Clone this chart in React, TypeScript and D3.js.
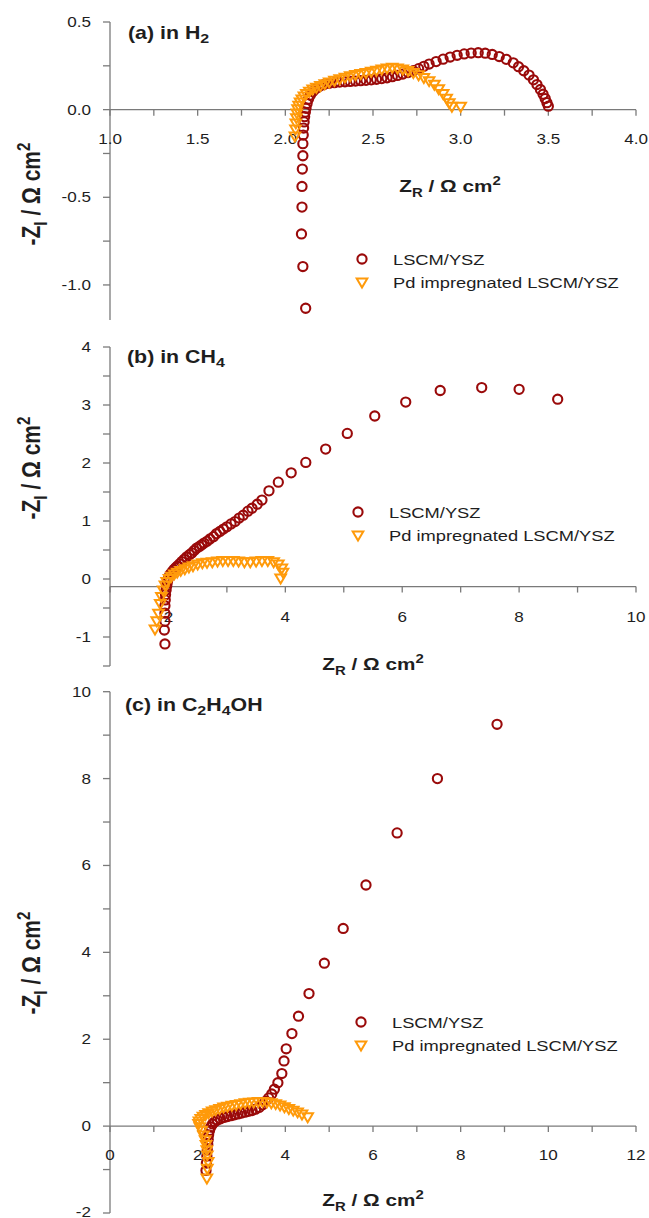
import React from "react";
import * as d3 from "d3";

type Pt = [number, number];

// ---------- DATA ----------
const h2Lscm: Pt[] = [
  [2.116, -1.133], [2.1, -0.895], [2.092, -0.709], [2.095, -0.556], [2.095, -0.438], [2.097, -0.339],
  [2.1, -0.263], [2.1, -0.194], [2.102, -0.145], [2.104, -0.105], [2.107, -0.07], [2.11, -0.04],
  [2.114, -0.015], [2.118, 0.008], [2.124, 0.035], [2.132, 0.06], [2.143, 0.083], [2.157, 0.103],
  [2.175, 0.12], [2.195, 0.133], [2.22, 0.143], [2.25, 0.15], [2.28, 0.154], [2.31, 0.157],
  [2.34, 0.159], [2.37, 0.161], [2.4, 0.163], [2.43, 0.165], [2.46, 0.167], [2.49, 0.17],
  [2.52, 0.173], [2.55, 0.177], [2.58, 0.182], [2.61, 0.188], [2.64, 0.195], [2.67, 0.203],
  [2.7, 0.212], [2.73, 0.222], [2.76, 0.234], [2.79, 0.247], [2.82, 0.26], [2.86, 0.274],
  [2.9, 0.288], [2.94, 0.3], [2.98, 0.31], [3.02, 0.318], [3.06, 0.323], [3.1, 0.325],
  [3.14, 0.322], [3.18, 0.315], [3.22, 0.303], [3.26, 0.287], [3.3, 0.267], [3.33, 0.245],
  [3.36, 0.222], [3.39, 0.197], [3.415, 0.17], [3.435, 0.143], [3.455, 0.115], [3.47, 0.088],
  [3.482, 0.063], [3.492, 0.04], [3.5, 0.02],
];
const h2Pd: Pt[] = [
  [2.055, -0.15], [2.058, -0.11], [2.06, -0.075], [2.063, -0.045], [2.066, -0.018], [2.07, 0.005],
  [2.076, 0.025], [2.084, 0.044], [2.094, 0.062], [2.106, 0.078], [2.12, 0.093], [2.137, 0.106],
  [2.156, 0.118], [2.177, 0.128], [2.2, 0.138], [2.225, 0.148], [2.25, 0.158], [2.28, 0.168],
  [2.31, 0.177], [2.34, 0.186], [2.37, 0.194], [2.4, 0.201], [2.43, 0.207], [2.46, 0.213],
  [2.49, 0.219], [2.52, 0.225], [2.55, 0.232], [2.58, 0.238], [2.61, 0.242], [2.64, 0.238],
  [2.67, 0.232], [2.7, 0.224], [2.73, 0.213], [2.76, 0.2], [2.79, 0.184], [2.82, 0.166],
  [2.85, 0.145], [2.875, 0.12], [2.9, 0.093], [2.92, 0.065], [2.935, 0.04], [2.95, 0.02], [3.0, 0.02],
];
const ch4Lscm: Pt[] = [
  [1.94, -1.12], [1.93, -0.88], [1.94, -0.73], [1.94, -0.59], [1.94, -0.46], [1.945, -0.36],
  [1.95, -0.27], [1.96, -0.19], [1.97, -0.12], [1.98, -0.06], [1.99, -0.01], [2.01, 0.04],
  [2.03, 0.08], [2.06, 0.12], [2.09, 0.16], [2.12, 0.19], [2.15, 0.22], [2.19, 0.26],
  [2.23, 0.3], [2.27, 0.34], [2.31, 0.38], [2.36, 0.42], [2.4, 0.45], [2.44, 0.49],
  [2.48, 0.53], [2.53, 0.56], [2.57, 0.59], [2.61, 0.62], [2.66, 0.65], [2.71, 0.69],
  [2.77, 0.73], [2.82, 0.78], [2.88, 0.82], [2.94, 0.86], [3.0, 0.9], [3.07, 0.95],
  [3.14, 0.99], [3.21, 1.05], [3.28, 1.1], [3.36, 1.17], [3.43, 1.22], [3.52, 1.29],
  [3.6, 1.36], [3.72, 1.52], [3.88, 1.67], [4.1, 1.83], [4.35, 2.01], [4.69, 2.24],
  [5.06, 2.51], [5.53, 2.81], [6.06, 3.05], [6.65, 3.25], [7.36, 3.3], [8.0, 3.27], [8.66, 3.1],
];
const ch4Pd: Pt[] = [
  [1.77, -0.86], [1.8, -0.72], [1.83, -0.59], [1.86, -0.42], [1.88, -0.3], [1.91, -0.19],
  [1.94, -0.1], [1.97, -0.04], [2.01, 0.01], [2.05, 0.05], [2.1, 0.09], [2.15, 0.12],
  [2.21, 0.15], [2.28, 0.18], [2.35, 0.21], [2.42, 0.23], [2.5, 0.26], [2.58, 0.28],
  [2.66, 0.29], [2.75, 0.3], [2.84, 0.31], [2.93, 0.32], [3.02, 0.32], [3.11, 0.32],
  [3.2, 0.31], [3.3, 0.3], [3.4, 0.3], [3.5, 0.31], [3.6, 0.32], [3.7, 0.32],
  [3.8, 0.3], [3.88, 0.26], [3.94, 0.19], [3.96, 0.12], [3.92, 0.02],
];
const etLscm: Pt[] = [
  [2.19, -1.02], [2.2, -0.85], [2.21, -0.69], [2.22, -0.55], [2.23, -0.42], [2.24, -0.31],
  [2.25, -0.2], [2.27, -0.1], [2.3, -0.02], [2.34, 0.05], [2.39, 0.1], [2.45, 0.14],
  [2.52, 0.17], [2.6, 0.2], [2.68, 0.22], [2.76, 0.24], [2.84, 0.26], [2.92, 0.28],
  [3.0, 0.3], [3.08, 0.32], [3.16, 0.34], [3.24, 0.36], [3.32, 0.39], [3.4, 0.43],
  [3.48, 0.49], [3.55, 0.57], [3.62, 0.65], [3.69, 0.74], [3.75, 0.85], [3.83, 1.0],
  [3.92, 1.21], [3.97, 1.5], [4.02, 1.78], [4.15, 2.13], [4.3, 2.53], [4.54, 3.05],
  [4.89, 3.75], [5.32, 4.55], [5.84, 5.55], [6.55, 6.75], [7.47, 8.0], [8.83, 9.25],
];
const etPd: Pt[] = [
  [2.21, -1.19], [2.22, -0.97], [2.24, -0.81], [2.22, -0.66], [2.21, -0.54], [2.19, -0.42],
  [2.17, -0.31], [2.13, -0.2], [2.09, -0.09], [2.05, -0.01], [2.02, 0.06], [2.03, 0.12],
  [2.07, 0.18], [2.12, 0.23], [2.18, 0.27], [2.25, 0.31], [2.33, 0.35], [2.41, 0.38],
  [2.5, 0.41], [2.59, 0.44], [2.68, 0.46], [2.78, 0.48], [2.88, 0.5], [2.98, 0.52],
  [3.08, 0.54], [3.18, 0.55], [3.28, 0.56], [3.38, 0.57], [3.48, 0.57], [3.58, 0.56],
  [3.68, 0.54], [3.78, 0.52], [3.88, 0.49], [3.98, 0.45], [4.08, 0.41], [4.18, 0.37],
  [4.28, 0.33], [4.38, 0.28], [4.51, 0.22],
];

const seriesNames = ["LSCM/YSZ", "Pd impregnated LSCM/YSZ"];

const xTicksA = d3.range(0, 13).map((i) => 1 + i * 0.25);
const xLabelsA = ["1.0", "1.5", "2.0", "2.5", "3.0", "3.5", "4.0"];
const yTicksA = d3.range(0, 7).map((i) => -1.0 + i * 0.25);
const yLabelsA = ["-1.0", "-0.5", "0.0", "0.5"];

const xTicksB = d3.range(1, 11);
const xLabelsB = ["2", "4", "6", "8", "10"];
const yTicksB = d3.range(0, 12).map((i) => -1.5 + i * 0.5);
const yLabelsB = ["-1", "0", "1", "2", "3", "4"];

const xTicksC = d3.range(0, 13);
const xLabelsC = ["0", "2", "4", "6", "8", "10", "12"];
const yTicksC = d3.range(-2, 11);
const yLabelsC = ["-2", "0", "2", "4", "6", "8", "10"];

// ---------- STYLE ----------
const RED = "#9a0a0a";
const ORANGE = "#ff9a0a";
const AXIS = "#7a7a7a";
const TXT = "#1e1e1e";
const SX = 1.22;
const FONT = "'Liberation Sans', Arial, Helvetica, sans-serif";

function T(props: {
  x: number; y: number; size: number; bold?: boolean; anchor?: string; rotate?: boolean; children: any;
}) {
  const { x, y, size, bold, anchor = "start", rotate, children } = props;
  const tr = `translate(${x},${y}) scale(${SX},1)` + (rotate ? " rotate(-90)" : "");
  return (
    <text transform={tr} fontSize={size} fontWeight={bold ? "bold" : "normal"} textAnchor={anchor}
      fontFamily={FONT} fill={TXT}>
      {children}
    </text>
  );
}

const triPath = "M-5.3,-3.4 L5.3,-3.4 L0,5.6 Z";

function Circle({ x, y }: { x: number; y: number }) {
  return <circle cx={x} cy={y} r={4.6} fill="none" stroke={RED} strokeWidth={2.1} />;
}
function Tri({ x, y }: { x: number; y: number }) {
  return <path d={triPath} transform={`translate(${x},${y})`} fill="none" stroke={ORANGE} strokeWidth={2} strokeLinejoin="miter" />;
}

type PanelCfg = {
  title: any; titleX: number; titleY: number;
  xDomain: [number, number]; yDomain: [number, number];
  xRange: [number, number]; yRange: [number, number];
  xAxisAt: number;
  xTicks: number[]; xLabels: string[]; yTicks: number[]; yLabels: string[];
  xLabelY: number; xTitleX: number; xTitleY: number; yTitleY: number;
  legX: number; legY: number;
  lscm: Pt[]; pd: Pt[];
};

const panels: PanelCfg[] = [
  {
    title: <>(a) in H<tspan dy={4} fontSize="75%">2</tspan></>, titleX: 128, titleY: 39,
    xDomain: [1, 4], yDomain: [-1.2, 0.5], xRange: [110, 636], yRange: [320, 22], xAxisAt: 0,
    xTicks: xTicksA, xLabels: xLabelsA, yTicks: yTicksA, yLabels: yLabelsA,
    xLabelY: 144, xTitleX: 450, xTitleY: 192, yTitleY: 194, legX: 362, legY: 259,
    lscm: h2Lscm, pd: h2Pd,
  },
  {
    title: <>(b) in CH<tspan dy={4} fontSize="75%">4</tspan></>, titleX: 127, titleY: 363,
    xDomain: [1, 10], yDomain: [-1.5, 4], xRange: [110, 636], yRange: [666, 347], xAxisAt: -0.13,
    xTicks: xTicksB, xLabels: xLabelsB, yTicks: yTicksB, yLabels: yLabelsB,
    xLabelY: 622, xTitleX: 373, xTitleY: 670, yTitleY: 468, legX: 358, legY: 512,
    lscm: ch4Lscm, pd: ch4Pd,
  },
  {
    title: <>(c) in C<tspan dy={4} fontSize="75%">2</tspan><tspan dy={-4}>H</tspan><tspan dy={4} fontSize="75%">4</tspan><tspan dy={-4}>OH</tspan></>,
    titleX: 125, titleY: 711,
    xDomain: [0, 12], yDomain: [-2, 10], xRange: [110, 636], yRange: [1213, 691.7], xAxisAt: 0,
    xTicks: xTicksC, xLabels: xLabelsC, yTicks: yTicksC, yLabels: yLabelsC,
    xLabelY: 1160, xTitleX: 373, xTitleY: 1206, yTitleY: 963, legX: 361, legY: 1022,
    lscm: etLscm, pd: etPd,
  },
];

function Panel({ p }: { p: PanelCfg }) {
  const x = d3.scaleLinear().domain(p.xDomain).range(p.xRange);
  const y = d3.scaleLinear().domain(p.yDomain).range(p.yRange);
  const x0 = x(p.xDomain[0]);
  const ya = y(p.xAxisAt);
  return (
    <g>
      {/* y axis */}
      <line x1={x0} x2={x0} y1={y(p.yDomain[0])} y2={y(p.yDomain[1])} stroke={AXIS} strokeWidth={1.3} />
      {p.yTicks.map((t, i) => (
        <line key={"yt" + i} x1={x0 - 7} x2={x0} y1={y(t)} y2={y(t)} stroke={AXIS} strokeWidth={1.3} />
      ))}
      {p.yLabels.map((l, i) => (
        <T key={"yl" + i} x={91} y={Math.min(y(+l) + 5, 1217)} size={14} anchor="end">{l}</T>
      ))}
      {/* x axis */}
      <line x1={x(p.xDomain[0])} x2={x(p.xDomain[1])} y1={ya} y2={ya} stroke={AXIS} strokeWidth={1.3} />
      {p.xTicks.map((t, i) => (
        <line key={"xt" + i} x1={x(t)} x2={x(t)} y1={ya} y2={ya + 6} stroke={AXIS} strokeWidth={1.3} />
      ))}
      {p.xLabels.map((l, i) => (
        <T key={"xl" + i} x={x(+l)} y={p.xLabelY} size={14} anchor="middle">{l}</T>
      ))}
      {/* titles */}
      <T x={p.titleX} y={p.titleY} size={17.5} bold>{p.title}</T>
      <T x={p.xTitleX} y={p.xTitleY} size={17} bold anchor="middle">
        Z<tspan dy={5} fontSize="72%">R</tspan><tspan dy={-5}> / Ω cm</tspan><tspan dy={-7} fontSize="72%">2</tspan>
      </T>
      <T x={40} y={p.yTitleY} size={21} bold anchor="middle" rotate>
        -Z<tspan dy={6} fontSize="72%">I</tspan><tspan dy={-6}> / Ω cm</tspan><tspan dy={-8} fontSize="72%">2</tspan>
      </T>
      {/* data */}
      {p.lscm.map((d, i) => <Circle key={"c" + i} x={x(d[0])} y={y(d[1])} />)}
      {p.pd.map((d, i) => <Tri key={"t" + i} x={x(d[0])} y={y(d[1])} />)}
      {/* legend */}
      <Circle x={p.legX} y={p.legY} />
      <T x={p.legX + 31} y={p.legY + 5.5} size={15}>{seriesNames[0]}</T>
      <Tri x={p.legX} y={p.legY + 23} />
      <T x={p.legX + 31} y={p.legY + 29} size={15}>{seriesNames[1]}</T>
    </g>
  );
}

export default function App() {
  return (
    <svg width={649} height={1218} style={{ position: "absolute", left: 0, top: 0, background: "#fff" }}>
      <rect width={649} height={1218} fill="#fff" />
      {panels.map((p, i) => <Panel key={i} p={p} />)}
    </svg>
  );
}
